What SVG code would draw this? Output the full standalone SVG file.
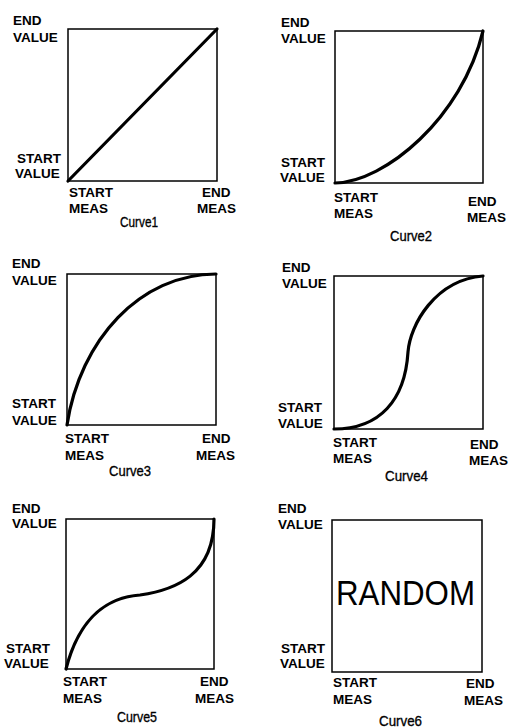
<svg xmlns="http://www.w3.org/2000/svg" width="510" height="728" viewBox="0 0 510 728">
<style>
text{font-family:"Liberation Sans",Arial,sans-serif;fill:#000}
.l{font-size:13.5px;font-weight:bold}
.c{font-size:15px;stroke:#000;stroke-width:0.35}
.box{fill:none;stroke:#000;stroke-width:1.5}
.crv{fill:none;stroke:#000;stroke-width:3.2;stroke-linecap:round}
</style>
<rect width="510" height="728" fill="#fff"/>
<g id="curve1">
<rect class="box" x="68" y="29" width="149" height="152"/>
<path class="crv" d="M68,181 L217,29"/>
<text class="l" x="13" y="25">END</text>
<text class="l" x="13" y="42">VALUE</text>
<text class="l" x="17" y="163">START</text>
<text class="l" x="15" y="178">VALUE</text>
<text class="l" x="69" y="197">START</text>
<text class="l" x="69" y="213">MEAS</text>
<text class="l" x="202" y="197">END</text>
<text class="l" x="197" y="213">MEAS</text>
<text class="c" x="120" y="227" textLength="38" lengthAdjust="spacingAndGlyphs">Curve1</text>
</g>
<g id="curve2">
<rect class="box" x="335" y="31" width="148" height="152"/>
<path class="crv" d="M335,183 C385,182 462,118 483,31"/>
<text class="l" x="281" y="27">END</text>
<text class="l" x="281" y="43">VALUE</text>
<text class="l" x="281" y="167">START</text>
<text class="l" x="280" y="182">VALUE</text>
<text class="l" x="334" y="202">START</text>
<text class="l" x="334" y="218">MEAS</text>
<text class="l" x="468" y="206">END</text>
<text class="l" x="467" y="222">MEAS</text>
<text class="c" x="390" y="241" textLength="42" lengthAdjust="spacingAndGlyphs">Curve2</text>
</g>
<g id="curve3">
<rect class="box" x="67" y="274" width="149" height="151"/>
<path class="crv" d="M67,425 C80,340 140,274 216,274"/>
<text class="l" x="12" y="268">END</text>
<text class="l" x="12" y="285">VALUE</text>
<text class="l" x="12" y="408">START</text>
<text class="l" x="12" y="425">VALUE</text>
<text class="l" x="65" y="443">START</text>
<text class="l" x="65" y="460">MEAS</text>
<text class="l" x="202" y="443">END</text>
<text class="l" x="196" y="460">MEAS</text>
<text class="c" x="109" y="476" textLength="42" lengthAdjust="spacingAndGlyphs">Curve3</text>
</g>
<g id="curve4">
<rect class="box" x="334" y="276" width="149" height="153"/>
<path class="crv" d="M334,429 C380,429 405,400 408,352 C410,325 435,280 483,276"/>
<text class="l" x="282" y="272">END</text>
<text class="l" x="282" y="288">VALUE</text>
<text class="l" x="278" y="412">START</text>
<text class="l" x="278" y="428">VALUE</text>
<text class="l" x="333" y="447">START</text>
<text class="l" x="333" y="463">MEAS</text>
<text class="l" x="470" y="449">END</text>
<text class="l" x="469" y="465">MEAS</text>
<text class="c" x="385" y="481" textLength="43" lengthAdjust="spacingAndGlyphs">Curve4</text>
</g>
<g id="curve5">
<rect class="box" x="66" y="519" width="148" height="150"/>
<path class="crv" d="M66,669 C80,615 110,597 140,595 C175,590 214,575 214,519"/>
<text class="l" x="12" y="513">END</text>
<text class="l" x="12" y="528">VALUE</text>
<text class="l" x="6" y="653">START</text>
<text class="l" x="4" y="668">VALUE</text>
<text class="l" x="63" y="686">START</text>
<text class="l" x="63" y="703">MEAS</text>
<text class="l" x="200" y="686">END</text>
<text class="l" x="195" y="703">MEAS</text>
<text class="c" x="117" y="722" textLength="40" lengthAdjust="spacingAndGlyphs">Curve5</text>
</g>
<g id="curve6">
<rect class="box" x="332" y="520" width="150" height="152"/>
<text x="336" y="605" style="font-size:35px" textLength="139" lengthAdjust="spacingAndGlyphs">RANDOM</text>
<text class="l" x="278" y="513">END</text>
<text class="l" x="278" y="529">VALUE</text>
<text class="l" x="281" y="653">START</text>
<text class="l" x="280" y="668">VALUE</text>
<text class="l" x="333" y="687">START</text>
<text class="l" x="333" y="704">MEAS</text>
<text class="l" x="466" y="688">END</text>
<text class="l" x="464" y="705">MEAS</text>
<text class="c" x="379" y="726" textLength="43" lengthAdjust="spacingAndGlyphs">Curve6</text>
</g>
</svg>
